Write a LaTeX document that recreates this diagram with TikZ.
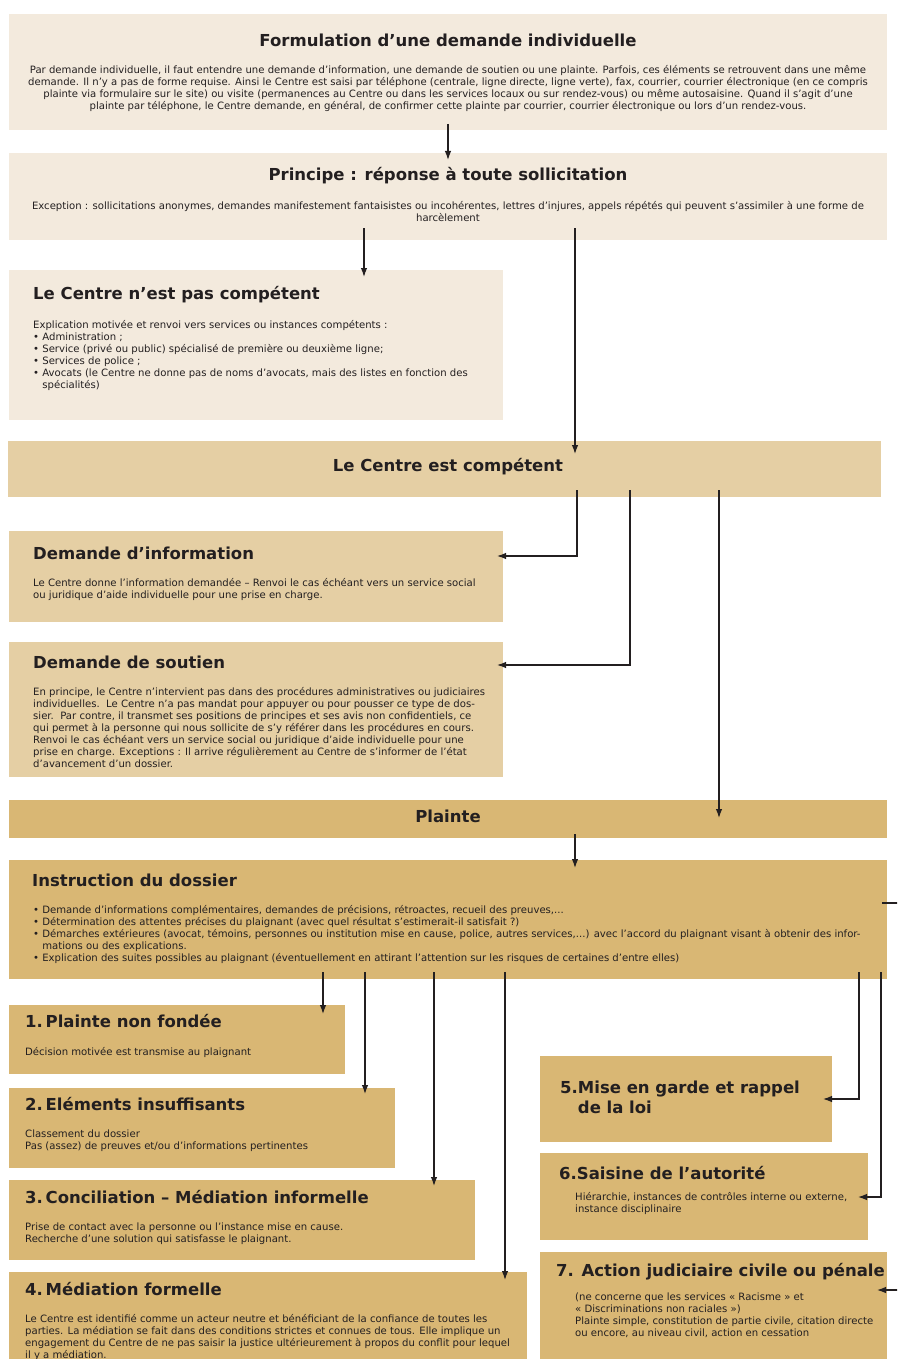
\documentclass[tikz,border=0pt]{standalone}
\usepackage{fontspec}
\setmainfont{DejaVu Sans}
\usepackage{xcolor}
\usetikzlibrary{arrows.meta,positioning}
\definecolor{palebg}{HTML}{F3EADD}
\definecolor{midbg}{HTML}{E5CFA4}
\definecolor{goldbg}{HTML}{D9B774}
\definecolor{ink}{HTML}{231F20}
\tikzset{
  box/.style={inner sep=0pt, outer sep=0pt, anchor=north west},
  pale/.style={box, fill=palebg},
  mid/.style={box, fill=midbg},
  gold/.style={box, fill=goldbg},
  ttl/.style={inner sep=0pt, text=ink, font=\bfseries\fontsize{16.5}{20}\selectfont},
  txt/.style={inner sep=0pt, text=ink, anchor=north west, align=left, font=\fontsize{10.1}{12}\selectfont},
  ctxt/.style={txt, anchor=north, align=center},
  arr/.style={draw=ink, line width=1.2pt, -{Latex[length=9pt,width=6.5pt]}}
}

\begin{document}
\begin{tikzpicture}[x=1pt, y=-1pt]
\useasboundingbox (0,0) rectangle (897,1359);
\clip (0,0) rectangle (897,1359);

\node[pale, minimum width=878pt, minimum height=116pt] (form) at (9,14) {};
\node[ttl] (formT) at ([yshift=-26pt]form.north) {Formulation d’une demande individuelle};
\node[ctxt] (formB) at ([yshift=-51.5pt]form.north) {Par demande individuelle, il faut entendre une demande d’information, une demande de soutien ou une plainte. Parfois, ces éléments se retrouvent dans une même\\
demande. Il n’y a pas de forme requise. Ainsi le Centre est saisi par téléphone (centrale, ligne directe, ligne verte), fax, courrier, courrier électronique (en ce compris\\
plainte via formulaire sur le site) ou visite (permanences au Centre ou dans les services locaux ou sur rendez-vous) ou même autosaisine. Quand il s’agit d’une\\
plainte par téléphone, le Centre demande, en général, de confirmer cette plainte par courrier, courrier électronique ou lors d’un rendez-vous.};

\node[pale, minimum width=878pt, minimum height=87pt] (princ) at (9,153) {};
\node[ttl] (princT) at ([yshift=-23pt]princ.north) {Principe : réponse à toute sollicitation};
\node[ctxt] (princB) at ([yshift=-48.5pt]princ.north) {Exception : sollicitations anonymes, demandes manifestement fantaisistes ou incohérentes, lettres d’injures, appels répétés qui peuvent s’assimiler à une forme de\\
harcèlement};

\node[pale, minimum width=494pt, minimum height=150pt] (nc) at (9,270) {};
\node[ttl, anchor=west] (ncT) at ([xshift=24pt,yshift=-25pt]nc.north west) {Le Centre n’est pas compétent};
\node[txt] (ncB) at ([xshift=24pt,yshift=-50.5pt]nc.north west) {Explication motivée et renvoi vers services ou instances compétents :\\
• Administration ;\\
• Service (privé ou public) spécialisé de première ou deuxième ligne;\\
• Services de police ;\\
• Avocats (le Centre ne donne pas de noms d’avocats, mais des listes en fonction des\\
\phantom{• }spécialités)};

\node[mid, minimum width=873pt, minimum height=56pt] (comp) at (8,441) {};
\node[ttl] (compT) at ([xshift=3.5pt,yshift=-26pt]comp.north) {Le Centre est compétent};

\node[mid, minimum width=494pt, minimum height=91pt] (info) at (9,531) {};
\node[ttl, anchor=west] (infoT) at ([xshift=24pt,yshift=-22pt]info.north west) {Demande d’information};
\node[txt] (infoB) at ([xshift=24pt,yshift=-47.5pt]info.north west) {Le Centre donne l’information demandée – Renvoi le cas échéant vers un service social\\
ou juridique d’aide individuelle pour une prise en charge.};

\node[mid, minimum width=494pt, minimum height=135pt] (sout) at (9,642) {};
\node[ttl, anchor=west] (soutT) at ([xshift=24pt,yshift=-20pt]sout.north west) {Demande de soutien};
\node[txt] (soutB) at ([xshift=24pt,yshift=-45.5pt]sout.north west) {En principe, le Centre n’intervient pas dans des procédures administratives ou judiciaires\\
individuelles.\ \ Le Centre n’a pas mandat pour appuyer ou pour pousser ce type de dos-\\
sier.\ \ Par contre, il transmet ses positions de principes et ses avis non confidentiels, ce\\
qui permet à la personne qui nous sollicite de s’y référer dans les procédures en cours.\\
Renvoi le cas échéant vers un service social ou juridique d’aide individuelle pour une\\
prise en charge. Exceptions : Il arrive régulièrement au Centre de s’informer de l’état\\
d’avancement d’un dossier.};

\node[gold, minimum width=878pt, minimum height=38pt] (plainte) at (9,800) {};
\node[ttl] (plainteT) at ([yshift=-16pt]plainte.north) {Plainte};

\node[gold, minimum width=878pt, minimum height=119pt] (instr) at (9,860) {};
\node[ttl, anchor=west] (instrT) at ([xshift=23pt,yshift=-20pt]instr.north west) {Instruction du dossier};
\node[txt] (instrB) at ([xshift=24pt,yshift=-45.5pt]instr.north west) {• Demande d’informations complémentaires, demandes de précisions, rétroactes, recueil des preuves,...\\
• Détermination des attentes précises du plaignant (avec quel résultat s’estimerait-il satisfait ?)\\
• Démarches extérieures (avocat, témoins, personnes ou institution mise en cause, police, autres services,...) avec l’accord du plaignant visant à obtenir des infor-\\
\phantom{• }mations ou des explications.\\
• Explication des suites possibles au plaignant (éventuellement en attirant l’attention sur les risques de certaines d’entre elles)};

\node[gold, minimum width=336pt, minimum height=69pt] (b1) at (9,1005) {};
\node[ttl, anchor=west] (b1T) at ([xshift=16pt,yshift=-16pt]b1.north west) {1.\,Plainte non fondée};
\node[txt] (b1B) at ([xshift=16pt,yshift=-42.5pt]b1.north west) {Décision motivée est transmise au plaignant};

\node[gold, minimum width=386pt, minimum height=80pt] (b2) at (9,1088) {};
\node[ttl, anchor=west] (b2T) at ([xshift=16pt,yshift=-16pt]b2.north west) {2.\,Eléments insuffisants};
\node[txt] (b2B) at ([xshift=16pt,yshift=-41.5pt]b2.north west) {Classement du dossier\\
Pas (assez) de preuves et/ou d’informations pertinentes};

\node[gold, minimum width=466pt, minimum height=80pt] (b3) at (9,1180) {};
\node[ttl, anchor=west] (b3T) at ([xshift=16pt,yshift=-17pt]b3.north west) {3.\,Conciliation – Médiation informelle};
\node[txt] (b3B) at ([xshift=16pt,yshift=-42.5pt]b3.north west) {Prise de contact avec la personne ou l’instance mise en cause.\\
Recherche d’une solution qui satisfasse le plaignant.};

\node[gold, minimum width=518pt, minimum height=100pt] (b4) at (9,1272) {};
\node[ttl, anchor=west] (b4T) at ([xshift=16pt,yshift=-17pt]b4.north west) {4.\,Médiation formelle};
\node[txt] (b4B) at ([xshift=16pt,yshift=-42.5pt]b4.north west) {Le Centre est identifié comme un acteur neutre et bénéficiant de la confiance de toutes les\\
parties. La médiation se fait dans des conditions strictes et connues de tous. Elle implique un\\
engagement du Centre de ne pas saisir la justice ultérieurement à propos du conflit pour lequel\\
il y a médiation.};

\node[gold, minimum width=292pt, minimum height=86pt] (b5) at (540,1056) {};
\node[ttl, anchor=north west, align=left] (b5T) at ([xshift=20pt,yshift=-25pt]b5.north west) {5.Mise en garde et rappel\\
\phantom{5.}de la loi};

\node[gold, minimum width=328pt, minimum height=87pt] (b6) at (540,1153) {};
\node[ttl, anchor=west] (b6T) at ([xshift=19pt,yshift=-20pt]b6.north west) {6.Saisine de l’autorité};
\node[txt] (b6B) at ([xshift=35pt,yshift=-39.5pt]b6.north west) {Hiérarchie, instances de contrôles interne ou externe,\\
instance disciplinaire};

\node[gold, minimum width=347pt, minimum height=118pt] (b7) at (540,1252) {};
\node[ttl, anchor=west] (b7T) at ([xshift=16pt,yshift=-20pt]b7.north west) {7. Action judiciaire civile ou pénale};
\node[txt] (b7B) at ([xshift=35pt,yshift=-40.5pt]b7.north west) {(ne concerne que les services « Racisme » et\\
« Discriminations non raciales »)\\
Plainte simple, constitution de partie civile, citation directe\\
ou encore, au niveau civil, action en cessation};

\draw[arr] ([yshift=6pt]form.south) -- ([yshift=-7pt]princ.north);
\draw[arr] ([xshift=-84pt,yshift=12pt]princ.south) -- ([xshift=108pt,yshift=-7pt]nc.north);
\draw[arr] ([xshift=127pt,yshift=12pt]princ.south) -- ([xshift=130.5pt,yshift=-13pt]comp.north);
\draw[arr] ([xshift=132.5pt,yshift=7pt]comp.south) |- ([xshift=-6pt,yshift=-25pt]info.north east);
\draw[arr] ([xshift=185.5pt,yshift=7pt]comp.south) |- ([xshift=-6pt,yshift=-23pt]sout.north east);
\draw[arr] ([xshift=274.5pt,yshift=7pt]comp.south) -- ([xshift=271pt,yshift=-18pt]plainte.north);
\draw[arr] ([xshift=127pt,yshift=4pt]plainte.south) -- ([xshift=127pt,yshift=-8pt]instr.north);
\draw[arr] ([xshift=-125pt,yshift=7pt]instr.south) -- ([xshift=-22pt,yshift=-9pt]b1.north east);
\draw[arr] ([xshift=-83pt,yshift=7pt]instr.south) -- ([xshift=-30pt,yshift=-6pt]b2.north east);
\draw[arr] ([xshift=-14pt,yshift=7pt]instr.south) -- ([xshift=-41pt,yshift=-6pt]b3.north east);
\draw[arr] ([xshift=57pt,yshift=7pt]instr.south) -- ([xshift=-22pt,yshift=-8pt]b4.north east);
\draw[arr] ([xshift=-28pt,yshift=7pt]instr.south east) |- ([xshift=-9pt,yshift=-43pt]b5.north east);
\draw[arr] ([xshift=-6pt,yshift=7pt]instr.south east) |- ([xshift=-10pt,yshift=-44pt]b6.north east);
\draw[arr] ([xshift=-5pt,yshift=-43pt]instr.north east) -- ++(23,0) |- ([xshift=-10pt,yshift=-38pt]b7.north east);
\end{tikzpicture}
\end{document}
